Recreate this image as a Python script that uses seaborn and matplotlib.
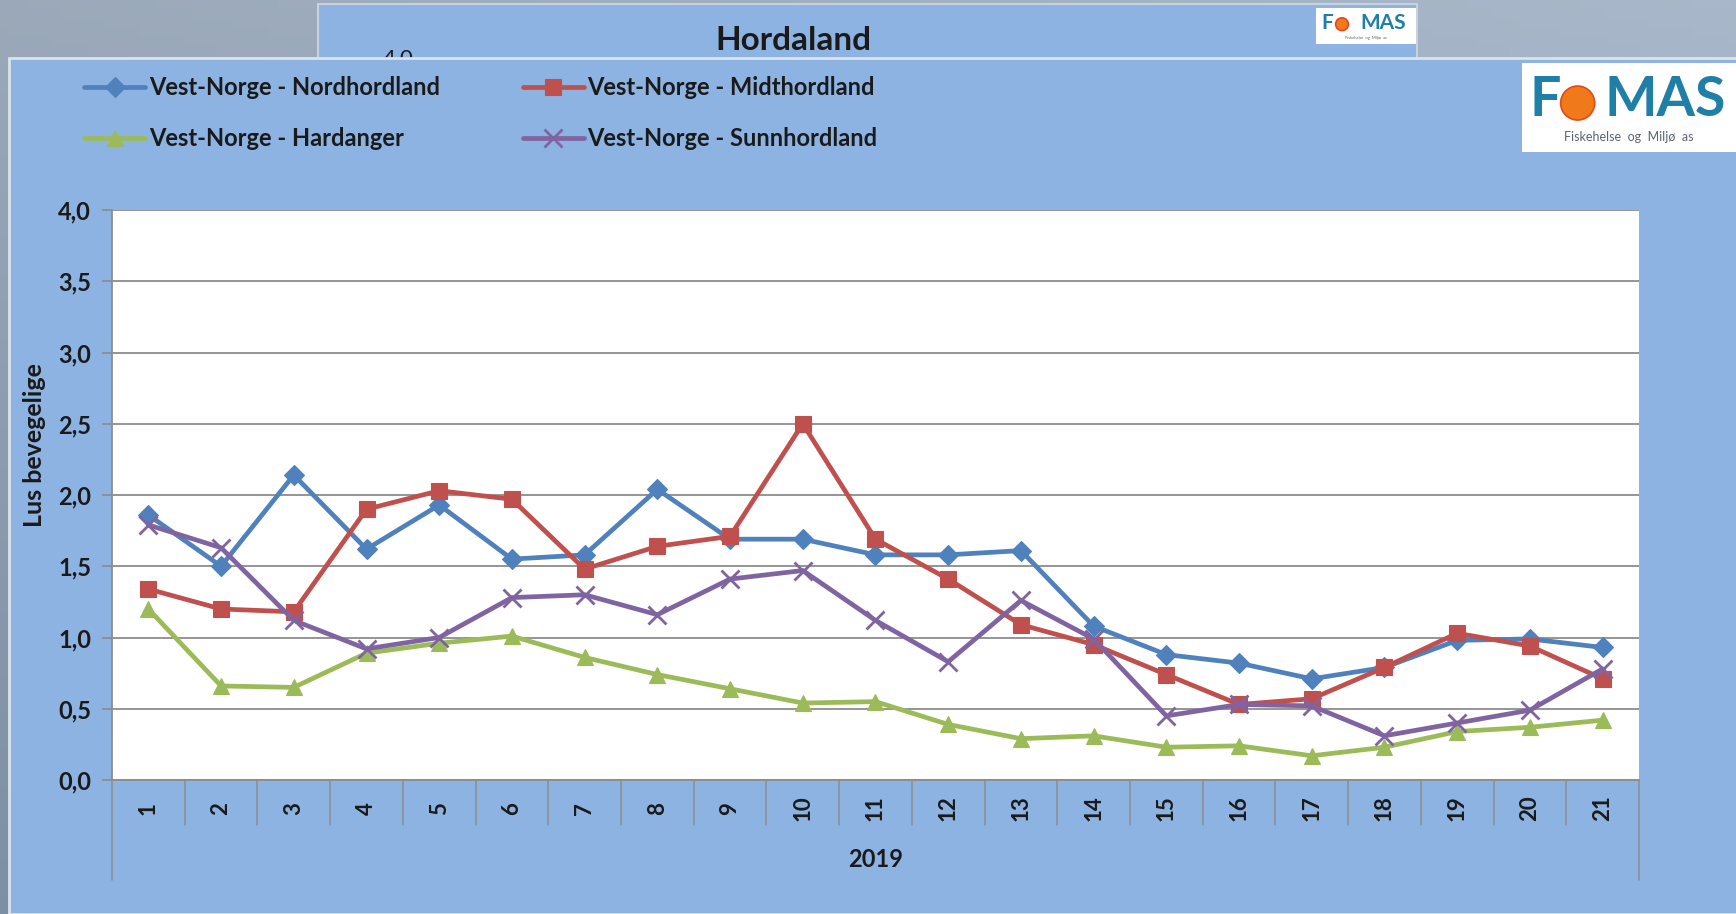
import numpy as np
import pandas as pd
import matplotlib
matplotlib.use("Agg")
import matplotlib.pyplot as plt
from matplotlib.patches import Rectangle, Ellipse
from matplotlib.ticker import FuncFormatter
import seaborn as sns

# --- data ---
weeks = list(range(1, 22))
nordhordland = [1.86, 1.50, 2.14, 1.62, 1.93, 1.55, 1.58, 2.04, 1.69, 1.69, 1.58,
                1.58, 1.61, 1.08, 0.88, 0.82, 0.71, 0.79, 0.98, 0.99, 0.93]
midthordland = [1.34, 1.20, 1.18, 1.90, 2.03, 1.97, 1.48, 1.64, 1.71, 2.50, 1.69,
                1.41, 1.09, 0.95, 0.74, 0.53, 0.57, 0.79, 1.03, 0.94, 0.71]
hardanger = [1.20, 0.66, 0.65, 0.89, 0.96, 1.01, 0.86, 0.74, 0.64, 0.54, 0.55,
             0.39, 0.29, 0.31, 0.23, 0.24, 0.17, 0.23, 0.34, 0.37, 0.42]
sunnhordland = [1.79, 1.63, 1.12, 0.92, 1.00, 1.28, 1.30, 1.16, 1.41, 1.47, 1.12,
                0.83, 1.26, 0.99, 0.45, 0.53, 0.52, 0.31, 0.40, 0.49, 0.78]
series_names = ["Vest-Norge - Nordhordland", "Vest-Norge - Midthordland",
                "Vest-Norge - Hardanger", "Vest-Norge - Sunnhordland"]
year_label = "2019"
y_label = "Lus bevegelige"
title_back = "Hordaland"

colors = ["#4F81BD", "#C0504D", "#9BBB59", "#8064A2"]
markers = ["D", "s", "^", "x"]
msizes = [10, 12, 12, 13]

df = pd.DataFrame({"uke": weeks * 4,
                   "verdi": nordhordland + midthordland + hardanger + sunnhordland,
                   "serie": np.repeat(series_names, len(weeks))})

sns.set_theme(style="white")
plt.rcParams["font.family"] = ["Lato", "DejaVu Sans"]

W, H = 1736, 914
fig = plt.figure(figsize=(W / 100, H / 100), dpi=100)


def fx(px):
    return px / W


def fy(py):
    return 1 - py / H


def logo(x0, y0, w, h, big, sub, z):
    # white box with "F (o) MAS" and a small subtitle
    fig.patches.append(Rectangle((fx(x0), fy(y0 + h)), fx(w), fy(y0) - fy(y0 + h),
                                 transform=fig.transFigure, facecolor="white",
                                 edgecolor="none", zorder=z))
    cy = y0 + h * 0.42
    fig.text(fx(x0 + w * 0.11), fy(cy), "F", fontsize=big, fontweight="bold",
             color="#1F7FA6", ha="center", va="center", zorder=z + 1)
    d = big * 0.85
    fig.patches.append(Ellipse((fx(x0 + w * 0.26), fy(cy + h * 0.03)), fx(d), d / H,
                               transform=fig.transFigure, facecolor="#F07A1A",
                               edgecolor="#E2481B", lw=1.2, zorder=z + 1))
    fig.text(fx(x0 + w * 0.67), fy(cy), "MAS", fontsize=big, fontweight="bold",
             color="#1F7FA6", ha="center", va="center", zorder=z + 1)
    fig.text(fx(x0 + w * 0.5), fy(y0 + h * 0.83), "Fiskehelse  og  Miljø  as",
             fontsize=sub, color="#5a6470", ha="center", va="center", zorder=z + 1)


# background "photo" gradient
bg = fig.add_axes([0, 0, 1, 1], zorder=-10)
gx = np.linspace(0, 1, 200)
gy = np.linspace(0, 1, 100)
GX, GY = np.meshgrid(gx, gy)
top = np.array([0.66, 0.72, 0.79])
bot = np.array([0.45, 0.54, 0.64])
img = top[None, None, :] * (1 - GY[..., None] * 0.6) + bot[None, None, :] * (GY[..., None] * 0.6)
img = img * (0.92 + 0.08 * GX[..., None])
bg.imshow(np.clip(img, 0, 1), aspect="auto", extent=[0, 1, 0, 1])
bg.axis("off")

# back panel (Hordaland)
fig.patches.append(Rectangle((fx(318), fy(60)), fx(1417) - fx(318), fy(4) - fy(60),
                             transform=fig.transFigure, facecolor="#8DB3E2",
                             edgecolor="#C8D2DC", lw=1.5, zorder=1))
fig.text(fx(793), fy(41), title_back, fontsize=24, fontweight="bold", color="#1a1a1a",
         ha="center", va="center", zorder=2)
fig.text(fx(398), fy(58), "4,0", fontsize=16, color="#1a1a1a", ha="center", va="center", zorder=2)
logo(1316, 8, 100, 36, 15, 3, 2)

# front panel
fig.patches.append(Rectangle((fx(9), 0), 1 - fx(9) + 0.01, fy(58), transform=fig.transFigure,
                             facecolor="#8DB3E2", edgecolor="#DCE3EA", lw=2, zorder=4))
logo(1522, 63, 214, 89, 40, 9, 5)

# main plot
ax = fig.add_axes([fx(112), fy(780), fx(1639) - fx(112), fy(210) - fy(780)], zorder=7)
ax.set_facecolor("white")
handles = []
for name, c, m, ms in zip(series_names, colors, markers, msizes):
    sub = df[df["serie"] == name]
    sns.lineplot(data=sub, x="uke", y="verdi", ax=ax, color=c, lw=3.4,
                 marker=m, markersize=ms, markeredgecolor=c,
                 markeredgewidth=2 if m == "x" else 0.8, label=name, legend=False)
    handles.append(ax.lines[-1])

ax.set_xlim(0.5, 21.5)
ax.set_ylim(0, 4)
ax.set_yticks(np.arange(0, 4.01, 0.5))
ax.yaxis.set_major_formatter(FuncFormatter(lambda v, _: f"{v:.1f}".replace(".", ",")))
ax.set_xticks(weeks)
ax.set_xticklabels([])
ax.grid(axis="y", color="#8C8C8C", lw=1.3)
ax.grid(axis="x", visible=False)
for s in ["top", "right"]:
    ax.spines[s].set_visible(False)
for s in ["left", "bottom"]:
    ax.spines[s].set_color("#8C8C8C")
    ax.spines[s].set_linewidth(1.3)
ax.tick_params(axis="y", left=True, length=7, color="#8C8C8C", pad=8,
               labelsize=17, labelcolor="#1a1a1a")
ax.tick_params(axis="x", bottom=False)
for lbl in ax.get_yticklabels():
    lbl.set_fontweight("bold")
ax.set_xlabel("")
ax.set_ylabel("")

# rotated category labels, centred below each category
xt = ax.get_xaxis_transform()
for w in weeks:
    ax.text(w, -0.05, str(w), transform=xt, rotation=90, ha="center", va="center",
            fontsize=16, fontweight="bold", color="#1a1a1a")

# category separators below the axis
for b in np.arange(0.5, 22, 1.0):
    low = -0.175 if b in (0.5, 21.5) else -0.079
    ax.plot([b, b], [0, low], transform=xt, color="#8C8C8C", lw=1.1, clip_on=False)
ax.text(0.5, -0.1386, year_label, transform=ax.transAxes, ha="center", va="center",
        fontsize=17, fontweight="bold", color="#1a1a1a")

fig.text(fx(35), fy(445), y_label, rotation=90, ha="center", va="center",
         fontsize=18, fontweight="bold", color="#1a1a1a", zorder=8)

order = [0, 2, 1, 3]
leg = fig.legend([handles[i] for i in order], [series_names[i] for i in order],
                 loc="upper left", bbox_to_anchor=(fx(84), fy(76)), ncol=2,
                 frameon=False, fontsize=17, handlelength=2.6, handletextpad=0.15,
                 columnspacing=3.5, labelspacing=1.2, borderpad=0, borderaxespad=0)
leg.set_zorder(9)
for t in leg.get_texts():
    t.set_fontweight("bold")
    t.set_color("#1a1a1a")

fig.savefig("out.png", dpi=100)
